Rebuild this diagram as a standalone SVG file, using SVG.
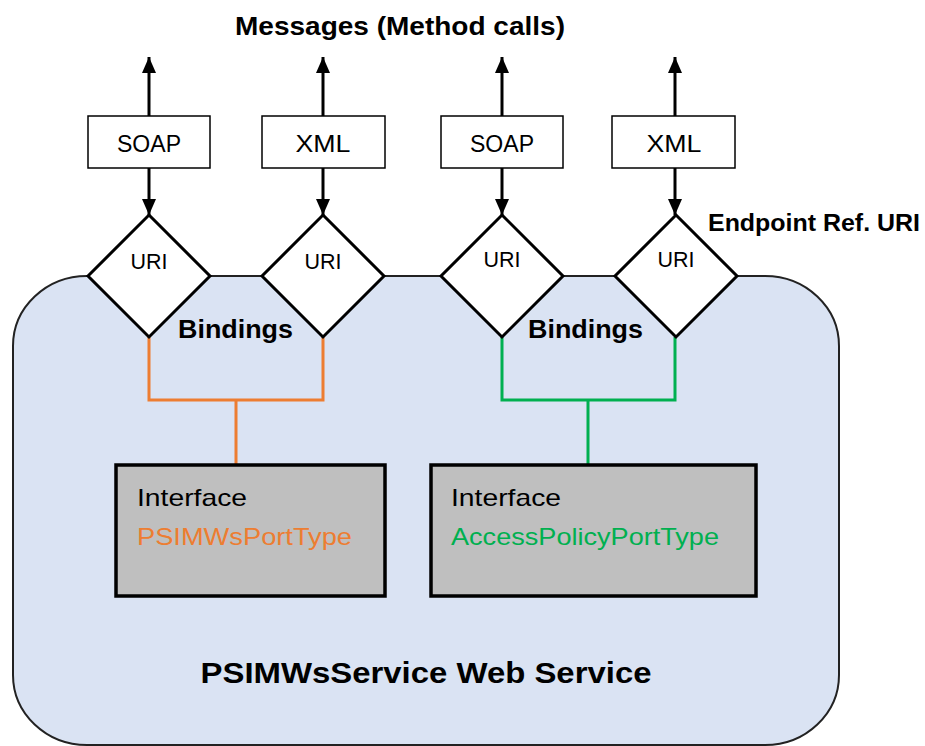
<svg xmlns="http://www.w3.org/2000/svg" width="925" height="746" viewBox="0 0 925 746">
<defs>
<style>
.t{font-family:"Liberation Sans",Arial,sans-serif;fill:#000}
.b{font-weight:bold}
.box{fill:#fff;stroke:#000;stroke-width:1.5}
.dia{fill:#fff;stroke:#000;stroke-width:3;stroke-linejoin:miter}
.arr{stroke:#000;stroke-width:3;fill:none}
.iface{fill:#bfbfbf;stroke:#000;stroke-width:3.5}
</style>
<marker id="ah2" viewBox="0 0 16 14" refX="16" refY="7" markerWidth="16" markerHeight="14" markerUnits="userSpaceOnUse" orient="auto">
<path d="M0,0 L16,7 L0,14 Z" fill="#000"/>
</marker>
</defs>
<rect width="925" height="746" fill="#fff"/>
<g id="service">
<rect x="13" y="276" width="826" height="469" rx="74" ry="70" fill="#dae3f3" stroke="#222" stroke-width="2"/>
<text class="t b" x="426" y="683" font-size="30" text-anchor="middle" textLength="451" lengthAdjust="spacingAndGlyphs">PSIMWsService Web Service</text>
</g>
<text class="t b" x="400" y="35" font-size="25" text-anchor="middle" textLength="330" lengthAdjust="spacingAndGlyphs">Messages (Method calls)</text>
<text class="t b" x="708" y="231" font-size="23" textLength="212" lengthAdjust="spacingAndGlyphs">Endpoint Ref. URI</text>
<g id="connectors">
<line class="arr" x1="149" y1="116" x2="149" y2="57" marker-end="url(#ah2)"/>
<line class="arr" x1="323" y1="116" x2="323" y2="57" marker-end="url(#ah2)"/>
<line class="arr" x1="502" y1="116" x2="502" y2="57" marker-end="url(#ah2)"/>
<line class="arr" x1="675" y1="116" x2="675" y2="57" marker-end="url(#ah2)"/>
<line class="arr" x1="149" y1="168" x2="149" y2="215" marker-end="url(#ah2)"/>
<line class="arr" x1="323" y1="168" x2="323" y2="215" marker-end="url(#ah2)"/>
<line class="arr" x1="502" y1="168" x2="502" y2="215" marker-end="url(#ah2)"/>
<line class="arr" x1="675" y1="168" x2="675" y2="215" marker-end="url(#ah2)"/>
<path d="M149,337 V400 H323 V337 M236,400 V465" fill="none" stroke="#ed7d31" stroke-width="3"/>
<path d="M502,337 V400 H675 V337 M588,400 V465" fill="none" stroke="#00b050" stroke-width="3"/>
</g>
<g id="soap1"><rect class="box" x="88" y="116" width="122" height="52"/><text class="t" x="149" y="152" font-size="24" text-anchor="middle" textLength="64" lengthAdjust="spacingAndGlyphs">SOAP</text></g>
<g id="xml1"><rect class="box" x="262" y="116" width="123" height="52"/><text class="t" x="323" y="152" font-size="24" text-anchor="middle" textLength="55" lengthAdjust="spacingAndGlyphs">XML</text></g>
<g id="soap2"><rect class="box" x="441" y="116" width="122" height="52"/><text class="t" x="502" y="152" font-size="24" text-anchor="middle" textLength="64" lengthAdjust="spacingAndGlyphs">SOAP</text></g>
<g id="xml2"><rect class="box" x="612" y="116" width="123" height="52"/><text class="t" x="674" y="152" font-size="24" text-anchor="middle" textLength="55" lengthAdjust="spacingAndGlyphs">XML</text></g>
<g id="uri1"><polygon class="dia" points="149,215 210,276 149,337 88,276"/><text class="t" x="149" y="269" font-size="22" text-anchor="middle" textLength="37" lengthAdjust="spacingAndGlyphs">URI</text></g>
<g id="uri2"><polygon class="dia" points="323,215 384,276 323,337 262,276"/><text class="t" x="323" y="269" font-size="22" text-anchor="middle" textLength="37" lengthAdjust="spacingAndGlyphs">URI</text></g>
<g id="uri3"><polygon class="dia" points="502,215 563,276 502,337 441,276"/><text class="t" x="502" y="267" font-size="22" text-anchor="middle" textLength="37" lengthAdjust="spacingAndGlyphs">URI</text></g>
<g id="uri4"><polygon class="dia" points="676,215 737,276 676,337 615,276"/><text class="t" x="676" y="267" font-size="22" text-anchor="middle" textLength="37" lengthAdjust="spacingAndGlyphs">URI</text></g>
<text class="t b" x="178" y="338" font-size="26" textLength="115" lengthAdjust="spacingAndGlyphs">Bindings</text>
<text class="t b" x="528" y="338" font-size="26" textLength="115" lengthAdjust="spacingAndGlyphs">Bindings</text>
<g id="iface1"><rect class="iface" x="116" y="465" width="269" height="131"/>
<text class="t" x="137" y="506" font-size="24" textLength="110" lengthAdjust="spacingAndGlyphs">Interface</text>
<text class="t" x="137" y="545" font-size="24" style="fill:#ed7d31" textLength="215" lengthAdjust="spacingAndGlyphs">PSIMWsPortType</text></g>
<g id="iface2"><rect class="iface" x="431" y="465" width="325" height="131"/>
<text class="t" x="451" y="506" font-size="24" textLength="110" lengthAdjust="spacingAndGlyphs">Interface</text>
<text class="t" x="451" y="545" font-size="24" style="fill:#00b050" textLength="268" lengthAdjust="spacingAndGlyphs">AccessPolicyPortType</text></g>
</svg>
